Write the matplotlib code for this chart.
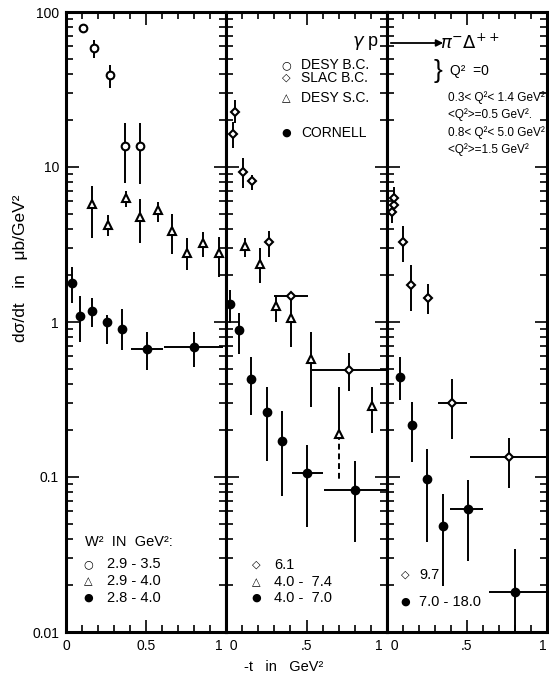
import numpy as np
import matplotlib.pyplot as plt
from matplotlib.ticker import FixedLocator, LogLocator, NullFormatter

plt.rcParams['font.family'] = ['Liberation Sans', 'DejaVu Sans']
plt.rcParams['mathtext.fontset'] = 'dejavusans'

# ---- left panel: W^2 ~ 3 GeV^2 ----
l_circ_t = [0.107, 0.176, 0.273, 0.371, 0.462]
l_circ_v = [78.5, 58.3, 39.2, 13.7, 13.7]
l_circ_lo = [73.2, 50.5, 32.3, 7.88, 7.78]
l_circ_hi = [82.4, 65.9, 45.5, 19.2, 19.2]

l_tri_t = [0.164, 0.261, 0.373, 0.46, 0.571, 0.663, 0.753, 0.857, 0.957]
l_tri_v = [5.77, 4.2, 6.34, 4.73, 5.28, 3.85, 2.80, 3.22, 2.80]
l_tri_lo = [3.48, 3.59, 5.52, 3.23, 4.42, 2.75, 2.16, 2.63, 1.95]
l_tri_hi = [7.54, 4.90, 7.0, 6.22, 5.94, 4.98, 3.48, 3.81, 3.53]

l_dot_t = [0.035, 0.087, 0.161, 0.257, 0.35, 0.505, 0.797]
l_dot_v = [1.79, 1.09, 1.18, 1.0, 0.90, 0.67, 0.693]
l_dot_lo = [1.33, 0.743, 0.929, 0.721, 0.659, 0.49, 0.515]
l_dot_hi = [2.26, 1.47, 1.43, 1.11, 1.21, 0.865, 0.865]
l_dot_tlo = [0.035, 0.087, 0.161, 0.257, 0.35, 0.404, 0.61]
l_dot_thi = [0.035, 0.087, 0.161, 0.257, 0.35, 0.605, 0.98]

# ---- middle panel: W^2 ~ 6 GeV^2 ----
m_dia_t = [0.04, 0.057, 0.103, 0.161, 0.264, 0.403, 0.767]
m_dia_v = [16.3, 22.5, 9.33, 8.16, 3.30, 1.48, 0.49]
m_dia_lo = [13.3, 19.2, 7.32, 7.11, 2.63, 1.40, 0.359]
m_dia_hi = [19.5, 27.1, 11.4, 8.88, 3.86, 1.57, 0.631]
m_dia_tlo = [0.04, 0.057, 0.103, 0.161, 0.264, 0.30, 0.533]
m_dia_thi = [0.04, 0.057, 0.103, 0.161, 0.264, 0.51, 0.994]

m_tri_t = [0.117, 0.212, 0.308, 0.403, 0.528, 0.702, 0.91]
m_tri_v = [3.09, 2.37, 1.26, 1.06, 0.574, 0.189, 0.287]
m_tri_lo = [2.63, 1.79, 1.0, 0.69, 0.282, 0.189, 0.192]
m_tri_hi = [3.48, 3.0, 1.49, 1.39, 0.865, 0.383, 0.381]
# dashed lower error for the point at -t = 0.70
m_tri_dash_t = 0.702
m_tri_dash_lo = 0.0957

m_dot_t = [0.025, 0.082, 0.151, 0.254, 0.346, 0.503, 0.80]
m_dot_v = [1.31, 0.887, 0.427, 0.264, 0.17, 0.1067, 0.082]
m_dot_lo = [0.986, 0.622, 0.251, 0.127, 0.0757, 0.0478, 0.0383]
m_dot_hi = [1.61, 1.15, 0.594, 0.383, 0.268, 0.161, 0.127]
m_dot_tlo = [0.025, 0.082, 0.151, 0.254, 0.346, 0.41, 0.61]
m_dot_thi = [0.025, 0.082, 0.151, 0.254, 0.346, 0.60, 0.994]

# ---- right panel: W^2 ~ 10 GeV^2 ----
r_dia_t = [0.035, 0.045, 0.045, 0.104, 0.153, 0.259, 0.406, 0.76]
r_dia_v = [5.13, 5.69, 6.31, 3.27, 1.73, 1.42, 0.301, 0.134]
r_dia_lo = [4.35, 5.69, 6.31, 2.44, 1.18, 1.13, 0.176, 0.0853]
r_dia_hi = [5.13, 5.69, 7.43, 4.16, 2.33, 1.76, 0.429, 0.179]
r_dia_tlo = [0.035, 0.045, 0.045, 0.104, 0.153, 0.259, 0.319, 0.517]
r_dia_thi = [0.035, 0.045, 0.045, 0.104, 0.153, 0.259, 0.501, 0.998]

r_dot_t = [0.083, 0.155, 0.25, 0.35, 0.507, 0.80]
r_dot_v = [0.444, 0.216, 0.0966, 0.0485, 0.062, 0.0182]
r_dot_lo = [0.314, 0.125, 0.0381, 0.0198, 0.0288, 0.0091]
r_dot_hi = [0.594, 0.305, 0.152, 0.0776, 0.0957, 0.0343]
r_dot_tlo = [0.083, 0.155, 0.25, 0.35, 0.393, 0.64]
r_dot_thi = [0.083, 0.155, 0.25, 0.35, 0.60, 1.0]

y_ticks = [0.01, 0.1, 1, 10, 100]
y_labels = ['0.01', '0.1', '1', '10', '100']
x_labels = [['0', '0.5', '1 '], [' 0', '.5', '1 '], [' 0', '.5', '1']]

W, H = 549, 688


def fp(x, y):
    # pixel position -> figure fraction
    return x / W, 1 - y / H


def draw(ax, t, v, lo, hi, marker, face, tlo=None, thi=None, ms=5.5):
    t = np.array(t)
    v = np.array(v)
    yerr = [v - np.array(lo), np.array(hi) - v]
    xerr = None
    if tlo is not None:
        xerr = [t - np.array(tlo), np.array(thi) - t]
    ax.errorbar(t, v, yerr=yerr, xerr=xerr, fmt=marker, mfc=face, mec='black',
                ecolor='black', elinewidth=1.4, capsize=0, ms=ms, mew=1.5, zorder=3)


fig = plt.figure(figsize=(5.49, 6.88), dpi=100)
x0, y0 = fp(66, 632)
x1, y1 = fp(547, 12)
w = (x1 - x0) / 3
axes = [fig.add_axes([x0 + i * w, y0, w, y1 - y0]) for i in range(3)]

for i, ax in enumerate(axes):
    ax.set_yscale('log')
    ax.set_xlim(0, 1)
    ax.set_ylim(0.01, 100)
    ax.xaxis.set_major_locator(FixedLocator([0, 0.5, 1]))
    ax.xaxis.set_minor_locator(FixedLocator(np.arange(0.1, 1.0, 0.1)))
    ax.yaxis.set_major_locator(FixedLocator(y_ticks))
    ax.yaxis.set_minor_locator(LogLocator(10, subs=np.arange(2, 10)))
    ax.yaxis.set_minor_formatter(NullFormatter())
    ax.tick_params(which='both', direction='in', top=True, right=True, width=1.2)
    ax.tick_params(which='major', length=9, labelsize=10, pad=5)
    ax.tick_params(which='minor', length=5)
    ax.set_xticklabels(x_labels[i])
    labs = ax.get_xticklabels()
    if i > 0:
        labs[0].set_ha('left')
    labs[2].set_ha('right')
    if i == 0:
        ax.set_yticklabels(y_labels)
    else:
        ax.tick_params(labelleft=False)
    for s in ax.spines.values():
        s.set_linewidth(2.2)

ax1, ax2, ax3 = axes
draw(ax1, l_circ_t, l_circ_v, l_circ_lo, l_circ_hi, 'o', 'white')
draw(ax1, l_tri_t, l_tri_v, l_tri_lo, l_tri_hi, '^', 'white')
draw(ax1, l_dot_t, l_dot_v, l_dot_lo, l_dot_hi, 'o', 'black', l_dot_tlo, l_dot_thi)

draw(ax2, m_dia_t, m_dia_v, m_dia_lo, m_dia_hi, 'D', 'white', m_dia_tlo, m_dia_thi, ms=4.5)
draw(ax2, m_tri_t, m_tri_v, m_tri_lo, m_tri_hi, '^', 'white')
ax2.plot([m_tri_dash_t, m_tri_dash_t], [m_tri_v[5], m_tri_dash_lo], color='black',
         lw=1.4, ls=(0, (3, 2)), zorder=2)
draw(ax2, m_dot_t, m_dot_v, m_dot_lo, m_dot_hi, 'o', 'black', m_dot_tlo, m_dot_thi)

draw(ax3, r_dia_t, r_dia_v, r_dia_lo, r_dia_hi, 'D', 'white', r_dia_tlo, r_dia_thi, ms=4.5)
draw(ax3, r_dot_t, r_dot_v, r_dot_lo, r_dot_hi, 'o', 'black', r_dot_tlo, r_dot_thi)

# axis titles
fig.text(*fp(20, 268), 'dσ/dt   in   μb/GeV²', rotation=90, ha='center', va='center',
         fontsize=12.5)
fig.text(*fp(284, 667), '-t   in   GeV²', ha='center', va='center', fontsize=10.5)

# reaction
fig.text(*fp(365, 43), r'$\gamma$ p', ha='center', va='center', fontsize=13)
fig.text(*fp(470, 43), r'$\pi^{-}\Delta^{++}$', ha='center', va='center', fontsize=13)
fig.add_artist(plt.Annotation('', xy=fp(446, 43), xytext=fp(388, 43),
                              xycoords='figure fraction', textcoords='figure fraction',
                              arrowprops=dict(arrowstyle='-|>', color='black', lw=1.3,
                                              mutation_scale=10)))

# top legend
top_rows = [(65, '○', 'DESY B.C.'), (78, '◇', 'SLAC B.C.'),
            (98, '△', 'DESY S.C.'), (133, '●', 'CORNELL')]
for y, sym, name in top_rows:
    fig.text(*fp(286, y), sym, ha='center', va='center', fontsize=8,
             family=['DejaVu Sans'])
    fig.text(*fp(301, y), name, ha='left', va='center', fontsize=10)
fig.text(*fp(438, 71), '}', ha='center', va='center', fontsize=19)
fig.text(*fp(450, 71), 'Q²  =0', ha='left', va='center', fontsize=10)
q_rows = [(98, '0.3< Q²< 1.4 GeV²'), (115, '<Q²>=0.5 GeV².'),
          (133, '0.8< Q²< 5.0 GeV²'), (150, '<Q²>=1.5 GeV²')]
for y, s in q_rows:
    fig.text(*fp(448, y), s, ha='left', va='center', fontsize=8.5)

# W^2 legends
fig.text(*fp(85, 542), 'W²  IN  GeV²:', ha='left', va='center', fontsize=10.5)
panel_legends = [
    (88, 107, [(564, '○', '2.9 - 3.5'), (581, '△', '2.9 - 4.0'), (598, '●', '2.8 - 4.0')]),
    (256, 274, [(565, '◇', '6.1'), (582, '△', '4.0 -  7.4'), (598, '●', '4.0 -  7.0')]),
    (405, 419, [(575, '◇', '9.7'), (602, '●', '7.0 - 18.0')]),
]
for xs, xt, rows in panel_legends:
    for y, sym, lab in rows:
        fig.text(*fp(xs, y), sym, ha='center', va='center', fontsize=8,
                 family=['DejaVu Sans'])
        fig.text(*fp(xt, y), lab, ha='left', va='center', fontsize=10.5)

fig.savefig('out.png', dpi=100)
